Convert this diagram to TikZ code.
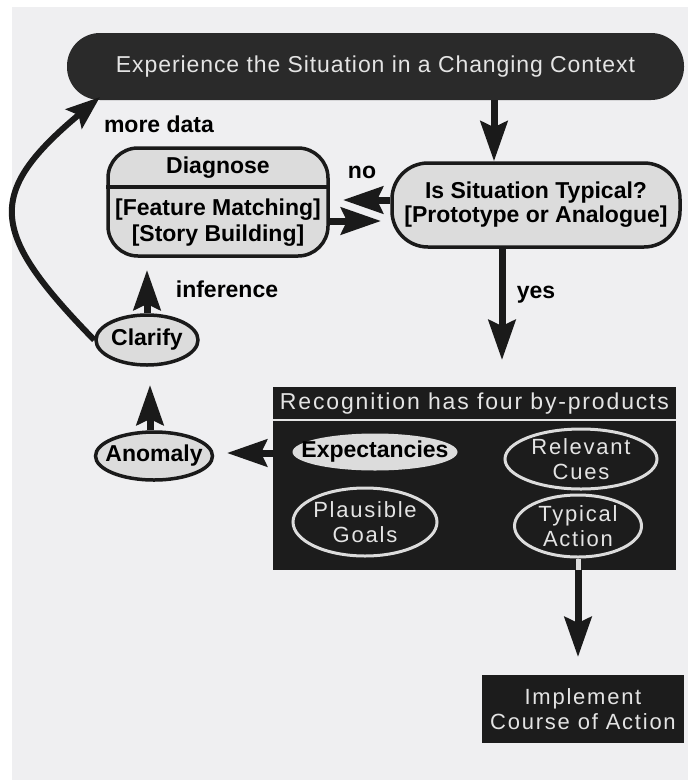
\documentclass[tikz,border=0pt]{standalone}
\usepackage{fontspec}
\setmainfont{Liberation Sans}
\newfontfamily\wfont[LetterSpace=8]{Liberation Sans}
\newfontfamily\pfont[LetterSpace=4]{Liberation Sans}
\usetikzlibrary{arrows.meta,calc,shapes.geometric}
\definecolor{bgc}{HTML}{EFEFF1}
\definecolor{pillc}{HTML}{2A2A2A}
\definecolor{boxc}{HTML}{1C1C1C}
\definecolor{lightc}{HTML}{DCDCDC}
\definecolor{wtext}{HTML}{E4E4E4}
\definecolor{inkc}{HTML}{1A1A1A}
\tikzset{
  lightbox/.style={draw=inkc, line width=3.5pt, fill=lightc, text=black,
    font=\bfseries\fontsize{23}{24}\selectfont, inner sep=0pt},
  btext/.style={text=black, font=\bfseries\fontsize{23}{26}\selectfont, inner sep=0pt},
  lightell/.style={lightbox, ellipse, inner xsep=-25pt, inner ysep=-8pt},
  darkell/.style={draw=lightc, line width=3pt, ellipse, text=wtext, align=center,
    font=\wfont\fontsize{22}{25}\selectfont, inner xsep=-25pt, inner ysep=-8pt},
  blackbox/.style={fill=boxc, inner sep=0pt},
  arr/.style={draw=inkc, line width=7pt, -{Stealth[length=40pt, width=27pt, inset=6pt]}},
  curvearr/.style={draw=inkc, line width=6pt, -{Stealth[length=34pt, width=25pt, inset=6pt]}},
}
\begin{document}
\begin{tikzpicture}[x=1pt,y=-1pt]
\useasboundingbox (0,0) rectangle (688,780);
\fill[white] (0,0) rectangle (688,780);
\fill[bgc] (12,7) rectangle (688,780);

% top pill
\node[fill=pillc, rounded corners=33pt, minimum width=617pt, minimum height=67pt,
  text=wtext, font=\pfont\fontsize{23}{26}\selectfont, inner sep=0pt]
  (exp) at (375.5,66.5) {Experience the Situation in a Changing Context};

% diagnose box
\node[lightbox, rounded corners=30pt, minimum width=220pt, minimum height=108pt]
  (diag) at (218,202) {};
\coordinate (divy) at (0,187);
\draw[draw=inkc, line width=3.5pt] (diag.west |- divy) -- (diag.east |- divy);
\node[btext] (diagT) at (218,168) {Diagnose};
\node[btext, align=center] (diagB) at (218,223) {{[}Feature Matching{]}\\{[}Story Building{]}};

% is situation typical
\node[lightbox, rounded corners=36pt, minimum width=288pt, minimum height=84pt, align=center]
  (isbox) at (536,205) {Is Situation Typical?\\{[}Prototype or Analogue{]}};

% labels
\node[btext] (lmore) at (159,124) {more data};
\node[btext] (lno) at (362,172) {no};
\node[btext] (lyes) at (536,295) {yes};
\node[btext] (linf) at (227,289) {inference};

% clarify, anomaly
\node[lightell, minimum width=102pt, minimum height=50pt] (clar) at (147,340) {Clarify};
\node[lightell, minimum width=117pt, minimum height=48pt] (anom) at (154,456) {Anomaly};

% recognition box
\node[blackbox, minimum width=403pt, minimum height=183pt] (recog) at (474.5,478.5) {};
\node[text=wtext, font=\wfont\fontsize{23}{26}\selectfont, inner sep=0pt]
  (title) at (474.5,404) {Recognition has four by-products};
\coordinate (sepy) at (0,420);
\draw[wtext, line width=2pt] (recog.west |- sepy) -- (recog.east |- sepy);
\node[lightell, draw=none, minimum width=165pt, minimum height=37pt] (expect) at (375,452) {Expectancies};
\node[darkell, minimum width=152pt, minimum height=60pt] (cues) at (581,459) {Relevant\\Cues};
\node[darkell, minimum width=144pt, minimum height=68pt] (goals) at (365,522) {Plausible\\Goals};
\node[darkell, minimum width=127pt, minimum height=62pt] (ta) at (578,526) {Typical\\Action};

% implement
\node[blackbox, minimum width=202pt, minimum height=68pt, align=center, text=wtext,
  font=\wfont\fontsize{22}{25}\selectfont] (impl) at (583,709) {Implement\\Course of Action};

% connectors
\coordinate (topx) at (494,0);
\draw[arr] (exp.south -| topx) -- (isbox.north -| topx);
\coordinate (noTip) at (343,200);
\draw[arr] (isbox.west |- noTip) -- (noTip);
\coordinate (backTip) at (381,221);
\draw[arr] (diag.east |- backTip) -- (backTip);
\coordinate (yesTip) at (502,360);
\draw[arr] (isbox.south -| yesTip) -- (yesTip);
\coordinate (clarTip) at (147,270);
\draw[arr] (clar.north) -- (clarTip);
\coordinate (anomTip) at (150,385);
\draw[arr] (anom.north -| anomTip) -- (anomTip);
\coordinate (expTip) at (227,453);
\draw[arr] (recog.west |- expTip) -- (expTip);
\coordinate (curveTip) at (100,97);
\draw[curvearr] (clar.west) .. controls (-10,233) and (-16,194) .. (curveTip);
\draw[lightc, line width=5pt] (ta.south) -- (recog.south -| ta.south);
\coordinate (implTip) at (578,657);
\draw[arr] (recog.south -| ta.south) -- (implTip);
\end{tikzpicture}
\end{document}
